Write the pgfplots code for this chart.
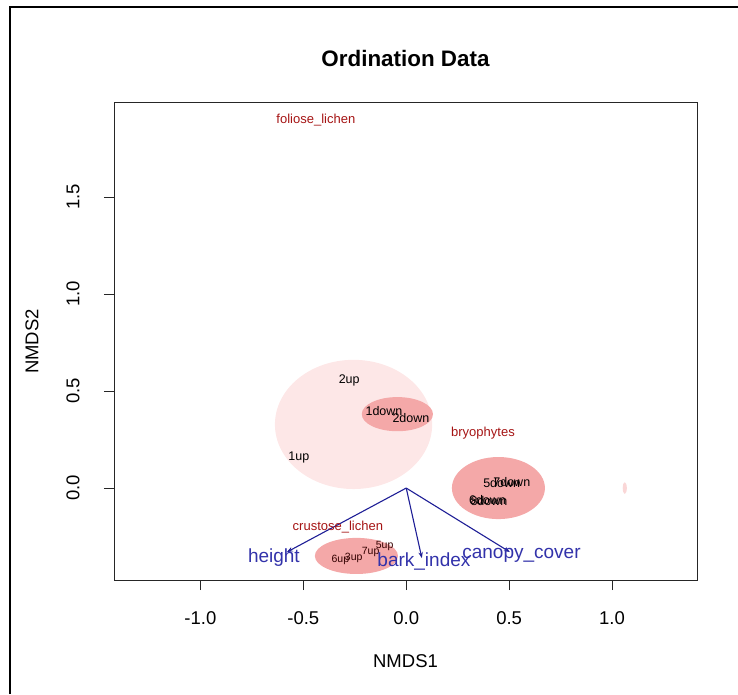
\documentclass[border=0pt]{standalone}
\usepackage{pgfplots}
\pgfplotsset{compat=1.18}
\usepackage{pgfplotstable}
\usepackage{fontspec}
\setmainfont{Liberation Sans}
\usetikzlibrary{arrows.meta}
\definecolor{spcol}{RGB}{165,20,20}
\definecolor{arrcol}{RGB}{30,30,150}
\definecolor{veccol}{RGB}{50,50,170}
\definecolor{ellbig}{RGB}{253,231,231}
\definecolor{ellsmall}{RGB}{244,168,168}
\definecolor{elltiny}{RGB}{250,215,215}

\pgfplotstableread{
x y label
-0.439 1.897 foliose\_lichen
0.373 0.284 bryophytes
-0.332 -0.201 crustose\_lichen
}\species

\pgfplotstableread{
x y label
-0.277 0.557 2up
-0.108 0.397 1down
0.023 0.362 2down
-0.522 0.160 1up
0.464 0.024 5down
0.513 0.033 7down
0.395 -0.062 6down
0.402 -0.066 8down
}\sites

\pgfplotstableread{
x y label
-0.320 -0.371 6up
-0.255 -0.359 3up
-0.173 -0.328 7up
-0.105 -0.297 5up
}\upsites

\pgfplotstableread{
x y label
-0.643 -0.356 height
0.086 -0.380 bark\_index
0.560 -0.345 canopy\_cover
}\veclabels

\begin{document}
\begin{tikzpicture}[x=1pt,y=1pt]
\path[use as bounding box] (0,0) rectangle (738,694);
\draw[line width=1.3pt] (10,0) -- (10,687) -- (738,687);
\begin{axis}[
  at={(114pt,114pt)}, anchor=south west,
  scale only axis, width=583pt, height=477pt,
  xmin=-1.420, xmax=1.413, ymin=-0.474, ymax=1.985,
  xtick={-1,-0.5,0,0.5,1},
  xticklabels={-1.0,-0.5,0.0,0.5,1.0},
  ytick={0,0.5,1,1.5},
  yticklabels={0.0,0.5,1.0,1.5},
  tick pos=left, tick align=outside,
  major tick length=10pt,
  axis line style={line width=1pt, black!85},
  major tick style={line width=1pt, black!85},
  tick label style={font=\fontsize{18.5}{22}\selectfont},
  xticklabel style={anchor=center, yshift=-28pt},
  yticklabel style={xshift=-31pt, rotate=90, anchor=center},
  title={Ordination Data},
  title style={at={(axis description cs:0.5,1.0817)}, anchor=center, font=\fontsize{22.4}{26}\selectfont\bfseries},
  xlabel={NMDS1},
  xlabel style={at={(axis description cs:0.5,-0.1698)}, anchor=center, font=\fontsize{18.5}{22}\selectfont},
  ylabel={NMDS2},
  ylabel style={at={(axis description cs:-0.1407,0.5)}, anchor=center, font=\fontsize{18.5}{22}\selectfont},
  clip=true,
]
% ellipses
\fill[ellbig] (axis cs:-0.256,0.328) ellipse [x radius=0.382, y radius=0.333];
\fill[ellsmall] (axis cs:-0.043,0.381) ellipse [x radius=0.173, y radius=0.088];
\fill[ellsmall] (axis cs:0.448,0.0) ellipse [x radius=0.226, y radius=0.160];
\fill[ellsmall] (axis cs:-0.242,-0.350) ellipse [x radius=0.202, y radius=0.093];
\fill[elltiny] (axis cs:1.062,0.0) ellipse [x radius=0.010, y radius=0.030];
% arrows
\addplot[arrcol, line width=1.1pt, -{Stealth[length=6pt,width=4.5pt]}] coordinates {(0,0) (-0.580,-0.330)};
\addplot[arrcol, line width=1.1pt, -{Stealth[length=6pt,width=4.5pt]}] coordinates {(0,0) (0.076,-0.361)};
\addplot[arrcol, line width=1.1pt, -{Stealth[length=6pt,width=4.5pt]}] coordinates {(0,0) (0.504,-0.330)};
% labels
\addplot[only marks, mark=*, mark options={draw=none,fill=none}, mark size=0pt,
  nodes near coords, point meta=explicit symbolic, nodes near coords align=center,
  every node near coord/.append style={font=\fontsize{13}{15}\selectfont, text=spcol, inner sep=0pt}]
  table[meta=label] {\species};
\addplot[only marks, mark=*, mark options={draw=none,fill=none}, mark size=0pt,
  nodes near coords, point meta=explicit symbolic, nodes near coords align=center,
  every node near coord/.append style={font=\fontsize{12.5}{14}\selectfont, text=black, inner sep=0pt}]
  table[meta=label] {\sites};
\addplot[only marks, mark=*, mark options={draw=none,fill=none}, mark size=0pt,
  nodes near coords, point meta=explicit symbolic, nodes near coords align=center,
  every node near coord/.append style={font=\fontsize{10.5}{12}\selectfont, text=black!80!red, inner sep=0pt}]
  table[meta=label] {\upsites};
\addplot[only marks, mark=*, mark options={draw=none,fill=none}, mark size=0pt,
  nodes near coords, point meta=explicit symbolic, nodes near coords align=center,
  every node near coord/.append style={font=\fontsize{19}{22}\selectfont, text=veccol, inner sep=0pt}]
  table[meta=label] {\veclabels};
\end{axis}
\end{tikzpicture}
\end{document}
